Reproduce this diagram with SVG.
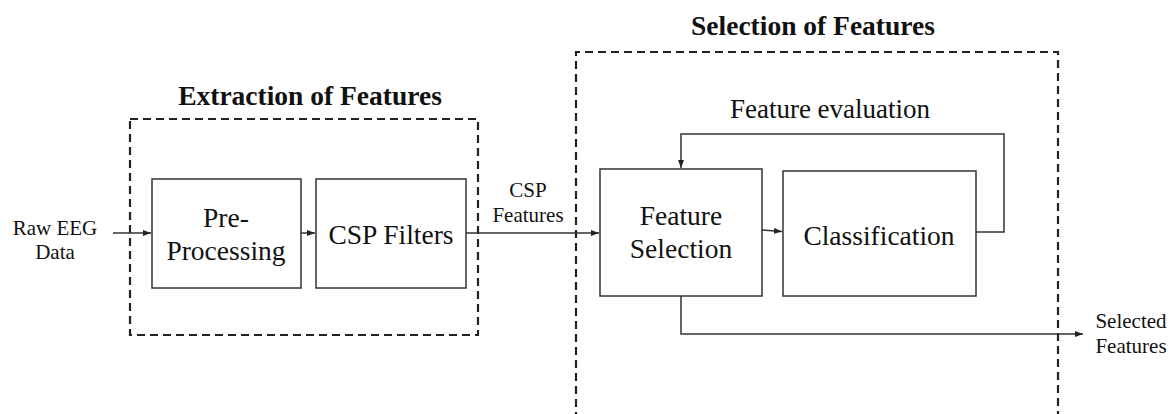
<svg xmlns="http://www.w3.org/2000/svg" width="1172" height="414" viewBox="0 0 1172 414">
<defs>
<marker id="ah" markerWidth="8" markerHeight="6" refX="8" refY="3" orient="auto" markerUnits="userSpaceOnUse">
<path d="M0,0 L8,3 L0,6 Z" fill="#222"/>
</marker>
<style>
.box{fill:#fff;stroke:#333;stroke-width:1.5}
.dash{fill:none;stroke:#222;stroke-width:2.2;stroke-dasharray:8 5}
.ln{fill:none;stroke:#333;stroke-width:1.5}
text{font-family:'Liberation Serif','Times New Roman',serif;fill:#111;text-anchor:middle}
.big{font-size:27.5px}
.sm{font-size:21px}
.title{font-size:27.5px;font-weight:bold}
.mid{font-size:27px}
</style>
</defs>
<rect width="1172" height="414" fill="#fff"/>
<g id="group-extraction">
<rect class="dash" x="130" y="119" width="348" height="216"/>
<text class="title" x="310" y="105">Extraction of Features</text>
</g>
<g id="group-selection">
<path class="dash" d="M576,420 V52 H1058 V420"/>
<text class="title" x="813" y="35">Selection of Features</text>
</g>
<g id="connectors">
<line class="ln" x1="113" y1="233" x2="151" y2="233" marker-end="url(#ah)"/>
<line class="ln" x1="301" y1="233" x2="315" y2="233" marker-end="url(#ah)"/>
<line class="ln" x1="466" y1="233" x2="599" y2="233" marker-end="url(#ah)"/>
<line class="ln" x1="762" y1="230" x2="782" y2="231.5" marker-end="url(#ah)"/>
<path class="ln" d="M976,232 H1004 V134 H681 V168" marker-end="url(#ah)"/>
<path class="ln" d="M681,296 V334 H1083" marker-end="url(#ah)"/>
<text class="mid" x="830" y="118">Feature evaluation</text>
<text class="sm" x="528" y="197">CSP</text>
<text class="sm" x="528" y="222">Features</text>
</g>
<g id="raw-eeg">
<text class="sm" x="55" y="235">Raw EEG</text>
<text class="sm" x="55" y="259">Data</text>
</g>
<g id="pre-processing">
<rect class="box" x="152" y="179" width="149" height="109"/>
<text class="big" x="226" y="227">Pre-</text>
<text class="big" x="226" y="260">Processing</text>
</g>
<g id="csp-filters">
<rect class="box" x="316" y="179" width="150" height="109"/>
<text class="big" x="391" y="244">CSP Filters</text>
</g>
<g id="feature-selection">
<rect class="box" x="600" y="169" width="162" height="127"/>
<text class="big" x="681" y="225">Feature</text>
<text class="big" x="681" y="258">Selection</text>
</g>
<g id="classification">
<rect class="box" x="783" y="171" width="193" height="125"/>
<text class="big" x="879" y="245">Classification</text>
</g>
<g id="selected-features">
<text class="sm" x="1131" y="328">Selected</text>
<text class="sm" x="1131" y="353">Features</text>
</g>
</svg>
